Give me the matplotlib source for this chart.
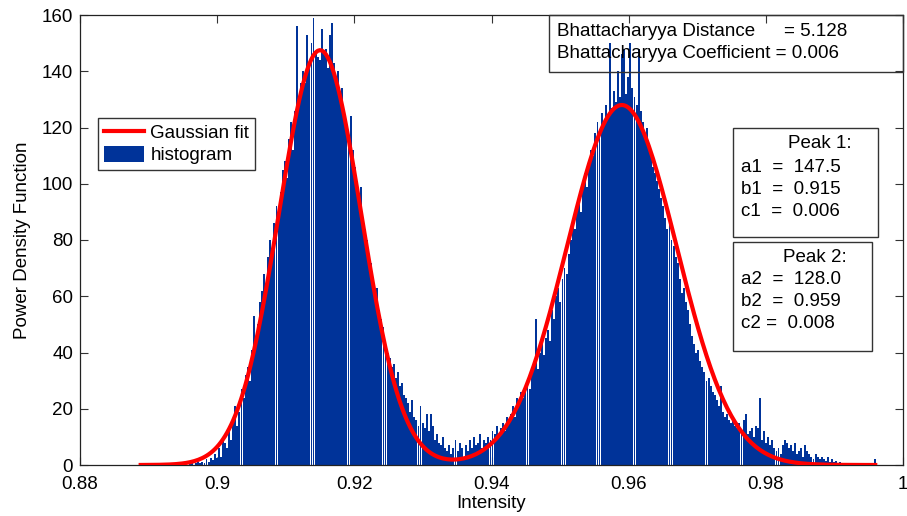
import numpy as np
import matplotlib
matplotlib.use("Agg")
import matplotlib.pyplot as plt
from matplotlib.patches import Rectangle

plt.rcParams['font.family'] = ['Liberation Sans', 'DejaVu Sans']

# histogram: bin start, bin width, and bar heights
bin_start = 0.8887
bin_width = 0.0003
heights = [
    0.6, 0, 0, 0.6, 0, 0, 0, 0.6, 0, 0,
    0, 0, 0.6, 0, 0, 0, 0, 0, 0.6, 0,
    0, 0.6, 0, 0, 0.6, 1.2, 0, 0.6, 1.2, 0.6,
    1.2, 0.6, 2, 1.2, 2.5, 1.8, 4, 2.5, 6, 3,
    10, 8, 6, 13, 9, 15, 21, 14, 19, 27,
    24, 32, 35, 30, 41, 53, 45, 50, 58, 62,
    68, 64, 74, 80, 77, 86, 92, 88, 97, 105,
    108, 102, 116, 122, 112, 126, 156, 128, 136, 140,
    136, 153, 142, 150, 159, 147, 145, 144, 155, 146,
    148, 141, 153, 157, 143, 136, 140, 131, 134, 126,
    122, 118, 124, 112, 106, 101, 96, 99, 88, 84,
    80, 75, 72, 66, 61, 63, 55, 52, 49, 44,
    40, 38, 35, 36, 31, 33, 28, 29, 25, 24,
    22, 19, 23, 17, 16, 14, 21, 15, 13, 18,
    12, 18, 14, 9, 11, 8, 7, 10, 6, 5,
    7, 4, 6, 9, 5, 8, 6, 3, 7, 5,
    9, 6, 10, 7, 8, 11, 6, 9, 8, 10,
    9, 12, 11, 14, 10, 13, 15, 12, 17, 16,
    18, 21, 17, 24, 22, 26, 24, 28, 31, 27,
    33, 36, 52, 34, 40, 43, 39, 45, 48, 44,
    55, 52, 60, 63, 58, 66, 70, 68, 75, 80,
    86, 84, 92, 96, 90, 100, 104, 99, 108, 112,
    110, 118, 122, 117, 125, 121, 128, 124, 150, 127,
    133, 129, 140, 131, 146, 148, 132, 138, 150, 134,
    131, 128, 148, 126, 122, 118, 120, 112, 110, 106,
    104, 101, 98, 95, 92, 88, 84, 86, 80, 78,
    74, 72, 66, 61, 63, 58, 55, 50, 46, 43,
    40, 41, 37, 35, 33, 30, 31, 28, 26, 25,
    23, 21, 28, 19, 17, 18, 16, 15, 17, 14,
    13, 15, 12, 16, 18, 11, 12, 13, 10, 14,
    13, 24, 9, 12, 8, 10, 7, 9, 6, 5,
    6, 4, 7, 9, 8, 6, 7, 5, 8, 4,
    5, 6, 3, 7, 5, 4, 3, 2, 4, 3,
    2, 3, 2, 1.5, 3, 1, 2, 1, 1.5, 0.6,
    1, 0.6, 0.6, 0, 0.6, 0, 0, 0.6, 0, 0,
    0, 0, 0, 0.6, 0, 0, 0, 2,
]

# gaussian fit parameters (as printed on the chart)
fit_a = [147.5, 128.0]
fit_b = [0.915, 0.959]
fit_c = [0.006, 0.008]

bhatt_distance = "5.128"
bhatt_coeff = "0.006"

x_ticks = [0.88, 0.90, 0.92, 0.94, 0.96, 0.98, 1.00]
x_tick_labels = ["0.88", "0.9", "0.92", "0.94", "0.96", "0.98", "1"]
y_ticks = [0, 20, 40, 60, 80, 100, 120, 140, 160]

W, H = 907, 516
def fx(px):
    return px / W
def fy(py):
    return 1 - py / H

fig = plt.figure(figsize=(W / 100, H / 100), dpi=100)
ax = fig.add_axes([fx(80), fy(465), 823 / W, 450 / H])

centers = bin_start + bin_width * (np.arange(len(heights)) + 0.5)
blue = "#003399"
ax.bar(centers, heights, width=bin_width * 0.93, color=blue, linewidth=0,
       label="histogram", zorder=2)

fit = np.zeros_like(centers)
for a, b, c in zip(fit_a, fit_b, fit_c):
    fit += a * np.exp(-(centers - b) ** 2 / (2 * c ** 2))
ax.plot(centers, fit, color="red", lw=3.0, label="Gaussian fit", zorder=3)

ax.set_xlim(0.88, 1.0)
ax.set_ylim(0, 160)
ax.set_xticks(x_ticks)
ax.set_xticklabels(x_tick_labels)
ax.set_yticks(y_ticks)
ax.tick_params(direction="in", top=True, right=True, length=6, width=0.8,
               labelsize=13.5, pad=5, color="#333333")
ax.tick_params(axis="x", pad=8)
for s in ax.spines.values():
    s.set_color("#222222")
    s.set_linewidth(0.9)
ax.set_xlabel("Intensity", fontsize=13.5, labelpad=1)
ax.set_ylabel("Power Density Function", fontsize=13.5, labelpad=8)

leg = ax.legend(loc="upper left",
                bbox_to_anchor=(fx(98), fy(118)), bbox_transform=fig.transFigure,
                fontsize=13.5, frameon=True, fancybox=False, framealpha=1,
                borderpad=0.3, labelspacing=0.2, handlelength=2.15,
                handleheight=0.95, handletextpad=0.35, borderaxespad=0)
leg.get_frame().set_edgecolor("#333333")
leg.get_frame().set_linewidth(1.0)

# text boxes
def box(x0, y0, x1, y1):
    fig.patches.append(Rectangle((fx(x0), fy(y1)), (x1 - x0) / W, (y1 - y0) / H,
                                 transform=fig.transFigure, fill=False,
                                 edgecolor="#333333", lw=1.0, zorder=5))

def txt(x, y, s):
    fig.text(fx(x), fy(y), s, fontsize=13.5, va="center", ha="left", zorder=6)

box(549, 15, 903, 72)
txt(557, 32, "Bhattacharyya Distance")
txt(784, 32, "= " + bhatt_distance)
txt(557, 54, "Bhattacharyya Coefficient = " + bhatt_coeff)

box(733, 128, 878, 237)
txt(788, 144, "Peak 1:")
txt(741, 167, "a1  =  %.1f" % fit_a[0])
txt(741, 189, "b1  =  %.3f" % fit_b[0])
txt(741, 211, "c1  =  %.3f" % fit_c[0])

box(733, 242, 872, 351)
txt(783, 258, "Peak 2:")
txt(741, 280, "a2  =  %.1f" % fit_a[1])
txt(741, 302, "b2  =  %.3f" % fit_b[1])
txt(741, 324, "c2 =  %.3f" % fit_c[1])

fig.savefig("out.png", dpi=100)
